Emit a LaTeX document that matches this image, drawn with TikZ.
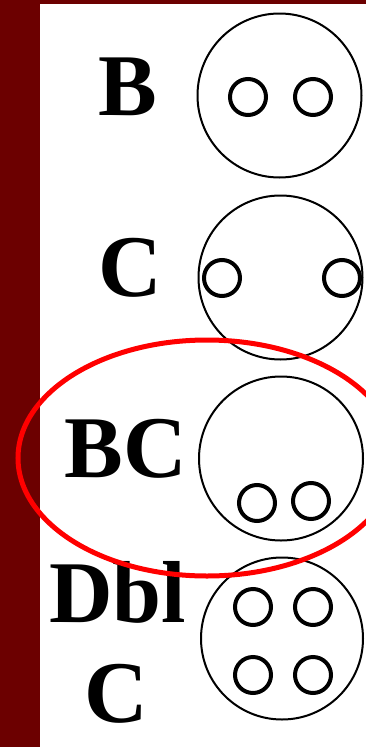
\documentclass[tikz,border=0pt]{standalone}
\usepackage{fontspec}
\setmainfont{Liberation Serif}
\definecolor{darkbar}{RGB}{108,0,0}
\begin{document}
\begin{tikzpicture}[x=1pt,y=-1pt,
  big/.style={draw=black,line width=2pt},
  small/.style={draw=black,line width=4pt},
  lbl/.style={anchor=base,inner sep=0pt,font=\fontsize{88}{90}\selectfont\bfseries}]
\useasboundingbox (0,0) rectangle (366,747);
\clip (0,0) rectangle (366,747);
\fill[white] (0,0) rectangle (366,747);
\fill[darkbar] (0,0) rectangle (40,747);
\fill[darkbar] (0,0) rectangle (366,4);
% labels
\node[lbl] (tB) at (127.5,115) {B};
\node[lbl] (tC) at (130.5,296) {C};
\node[lbl] (tBC) at (125.5,477) {BC};
\node[lbl] (tDbl) at (117.5,622) {Dbl};
\node[lbl] (tC2) at (116.5,722) {C};
% B
\draw[big] (279.5,95.5) circle[radius=82];
\draw[small] (248,97) circle[radius=18];
\draw[small] (313,97) circle[radius=18];
% C
\draw[big] (280.5,277.5) circle[radius=82];
\draw[small] (222,278) circle[radius=18];
\draw[small] (342,278) circle[radius=18];
% BC
\draw[big] (281,458.5) circle[radius=82];
\draw[small] (257,503) circle[radius=18];
\draw[small] (311,501) circle[radius=18];
% Dbl C
\draw[big] (282,638.5) circle[radius=81];
\draw[small] (253,607) circle[radius=18];
\draw[small] (313,607) circle[radius=18];
\draw[small] (253,675) circle[radius=18];
\draw[small] (313,675) circle[radius=18];
% red ellipse
\draw[red,line width=5pt] (207,458) ellipse[x radius=189,y radius=118];
\end{tikzpicture}
\end{document}
